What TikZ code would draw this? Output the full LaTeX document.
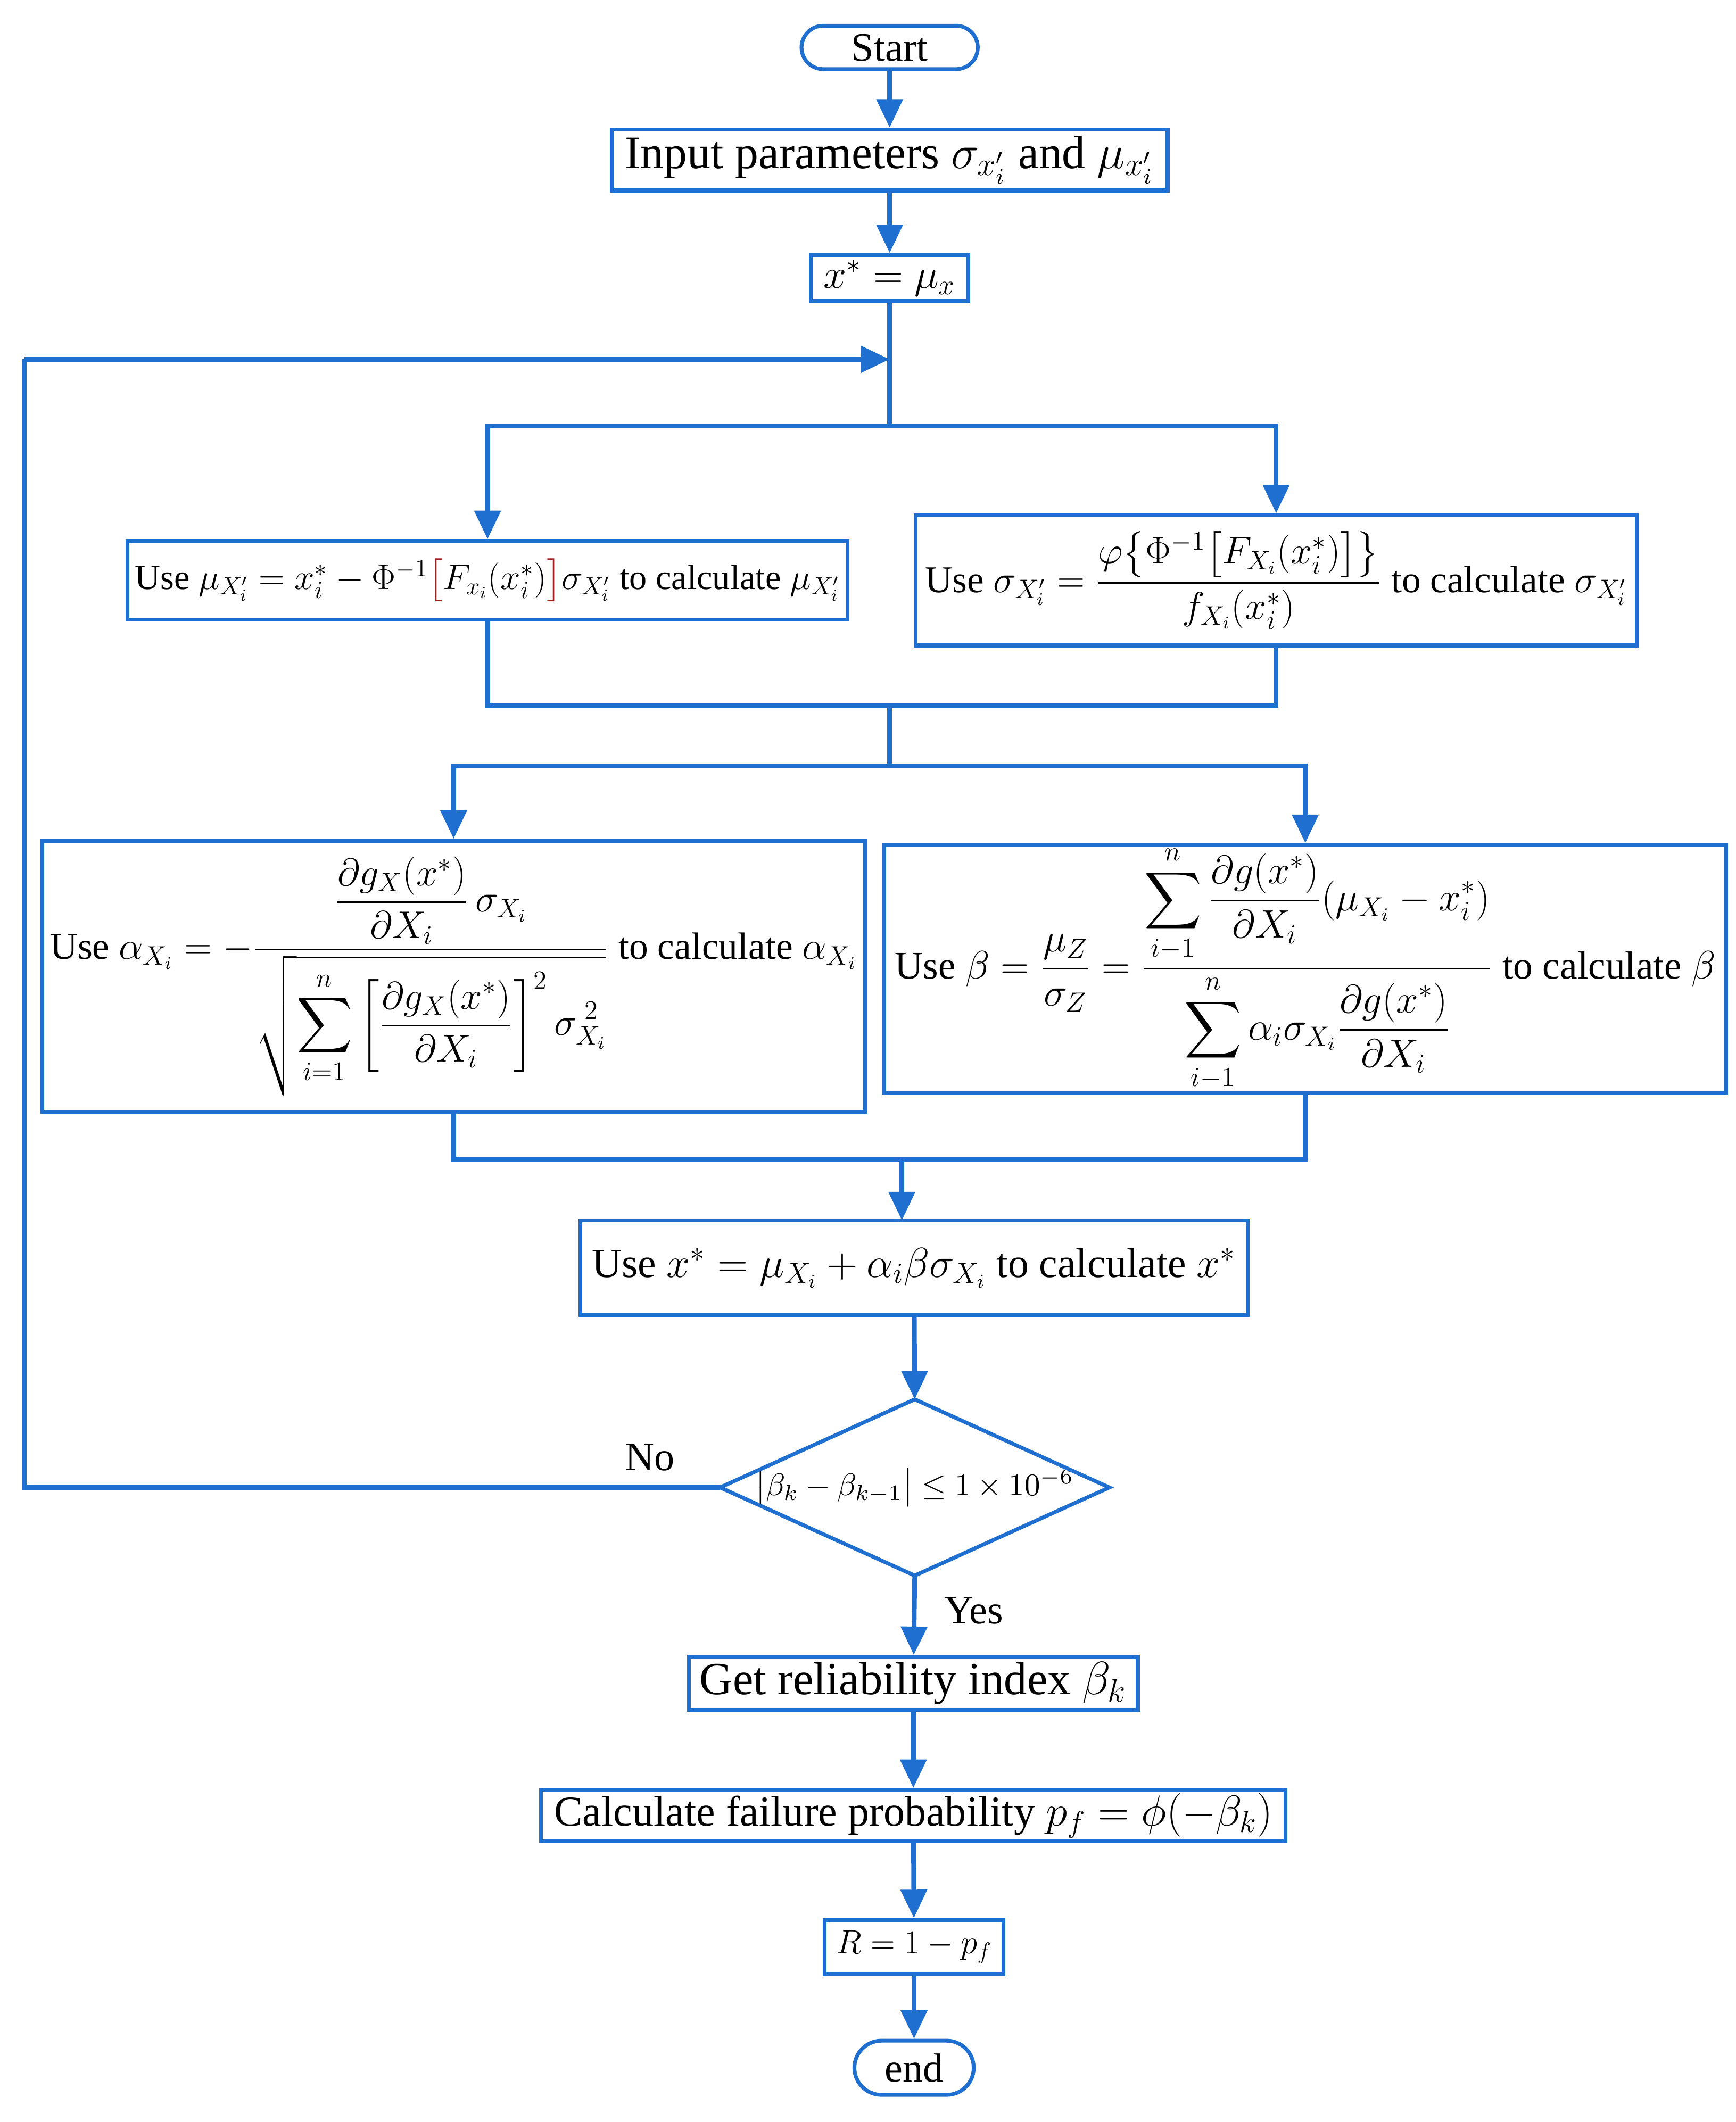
\documentclass[tikz,border=0pt]{standalone}
\usepackage{amsmath}
\usepackage{graphicx}
\usepackage{fontspec}
\setmainfont{Liberation Serif}
\usetikzlibrary{arrows.meta}
\definecolor{bl}{HTML}{1F6FD0}
\definecolor{dred}{HTML}{A02020}
\newcommand{\fitw}[2]{\resizebox{#1}{!}{#2}}
\begin{document}
\begin{tikzpicture}[x=0.02cm,y=-0.02cm,
  box/.style={draw=bl,line width=1.6pt,rectangle,inner sep=0pt,font=\fontsize{17}{20}\selectfont},
  ln/.style={draw=bl,line width=2pt},
  ar/.style={ln,-{Triangle[length=0.42cm,width=0.38cm]}}]
\useasboundingbox (0,0) rectangle (1280,1565);
\node[box,rounded corners=0.32cm,minimum width=2.6cm,minimum height=0.64cm] (start) at (656,35) {Start};
\node[box,minimum width=8.2cm,minimum height=0.9cm] (inp) at (656,118) {\fitw{7.8cm}{Input parameters $\sigma_{x_i'}$ and $\mu_{x_i'}$}};
\node[box,minimum width=2.32cm,minimum height=0.68cm] (x0) at (656,205) {$x^*=\mu_x$};
\coordinate (j) at (656,265);
\coordinate (s1) at (656,314);
\node[box,minimum width=10.62cm,minimum height=1.16cm] (b1) at (359.5,428) {\fitw{10.4cm}{Use $\mu_{X_i'}=x_i^*-\Phi^{-1}{\color{dred}\big[}F_{x_i}(x_i^*){\color{dred}\big]}\sigma_{X_i'}$ to calculate $\mu_{X_i'}$}};
\node[box,minimum width=10.64cm,minimum height=1.92cm] (b2) at (941,428) {\fitw{10.36cm}{Use $\sigma_{X_i'}=\dfrac{\varphi\big\{\Phi^{-1}\big[F_{X_i}(x_i^*)\big]\big\}}{f_{X_i}(x_i^*)}$ to calculate $\sigma_{X_i'}$}};
\node[box,minimum width=12.14cm,minimum height=4cm] (b3) at (334.5,720) {\fitw{11.9cm}{Use $\alpha_{X_i}=-\dfrac{\dfrac{\partial g_X(x^*)}{\partial X_i}\,\sigma_{X_i}}{\sqrt{\displaystyle\sum_{i=1}^{n}\left[\dfrac{\partial g_X(x^*)}{\partial X_i}\right]^2\sigma_{X_i}^{\;2}}}$ to calculate $\alpha_{X_i}$}};
\node[box,minimum width=12.42cm,minimum height=3.34cm] (b4) at (962.5,714.5) {\fitw{12.1cm}{Use $\beta=\dfrac{\mu_Z}{\sigma_Z}=\dfrac{\displaystyle\sum_{i-1}^{n}\dfrac{\partial g(x^*)}{\partial X_i}(\mu_{X_i}-x_i^*)}{\displaystyle\sum_{i-1}^{n}\alpha_i\sigma_{X_i}\dfrac{\partial g(x^*)}{\partial X_i}}$ to calculate $\beta$}};
\node[box,minimum width=9.84cm,minimum height=1.4cm] (b5) at (674,935) {\fitw{9.5cm}{Use $x^*=\mu_{X_i}+\alpha_i\beta\sigma_{X_i}$ to calculate $x^*$}};
\node[inner sep=0pt] (d) at (674.5,1097) {\fitw{4.7cm}{$\big|\beta_k-\beta_{k-1}\big|\le 1\times10^{-6}$}};
\coordinate (dt) at (674.5,1032);
\coordinate (db) at (674.5,1162);
\coordinate (dl) at (531,1097);
\coordinate (dr) at (818,1097);
\draw[draw=bl,line width=1.6pt] (dt) -- (dr) -- (db) -- (dl) -- cycle;
\node[box,minimum width=6.62cm,minimum height=0.78cm] (b6) at (673.5,1241.5) {\fitw{6.3cm}{Get reliability index $\beta_k$}};
\node[box,minimum width=10.98cm,minimum height=0.76cm] (b7) at (673.5,1339) {\fitw{10.6cm}{Calculate failure probability $p_f=\phi(-\beta_k)$}};
\node[box,minimum width=2.64cm,minimum height=0.8cm] (b8) at (674,1436) {\fitw{2.3cm}{$R=1-p_f$}};
\node[box,rounded corners=0.4cm,minimum width=1.76cm,minimum height=0.8cm] (end) at (674,1525) {end};
\node[font=\fontsize{17}{20}\selectfont] (no) at (479,1075) {No};
\node[font=\fontsize{17}{20}\selectfont] (yes) at (718,1188) {Yes};
\coordinate (m1) at (656,520);
\coordinate (s2) at (656,565);
\coordinate (m2) at (665,855);
\coordinate (m2e) at (665,900);
\coordinate (lb) at (18,1097);
\coordinate (lt) at (18,265);
\draw[ar] (start) -- (inp);
\draw[ar] (inp) -- (x0);
\draw[ln] (x0) -- (s1);
\draw[ar] (s1) -| (b1);
\draw[ar] (s1) -| (b2);
\draw[ln] (b1) |- (m1);
\draw[ln] (b2) |- (m1);
\draw[ln] (m1) -- (s2);
\draw[ar] (s2) -| (b3);
\draw[ar] (s2) -| (b4.north);
\draw[ln] (b3) |- (m2);
\draw[ln] (b4.south) |- (m2);
\draw[ar] (m2) -- (m2e);
\draw[ar] (b5) -- (dt);
\draw[ln] (dl) -- (lb) -- (lt);
\draw[ar] (lt) -- (j);
\draw[ar] (db) -- (b6);
\draw[ar] (b6) -- (b7);
\draw[ar] (b7) -- (b8);
\draw[ar] (b8) -- (end);
\end{tikzpicture}
\end{document}
